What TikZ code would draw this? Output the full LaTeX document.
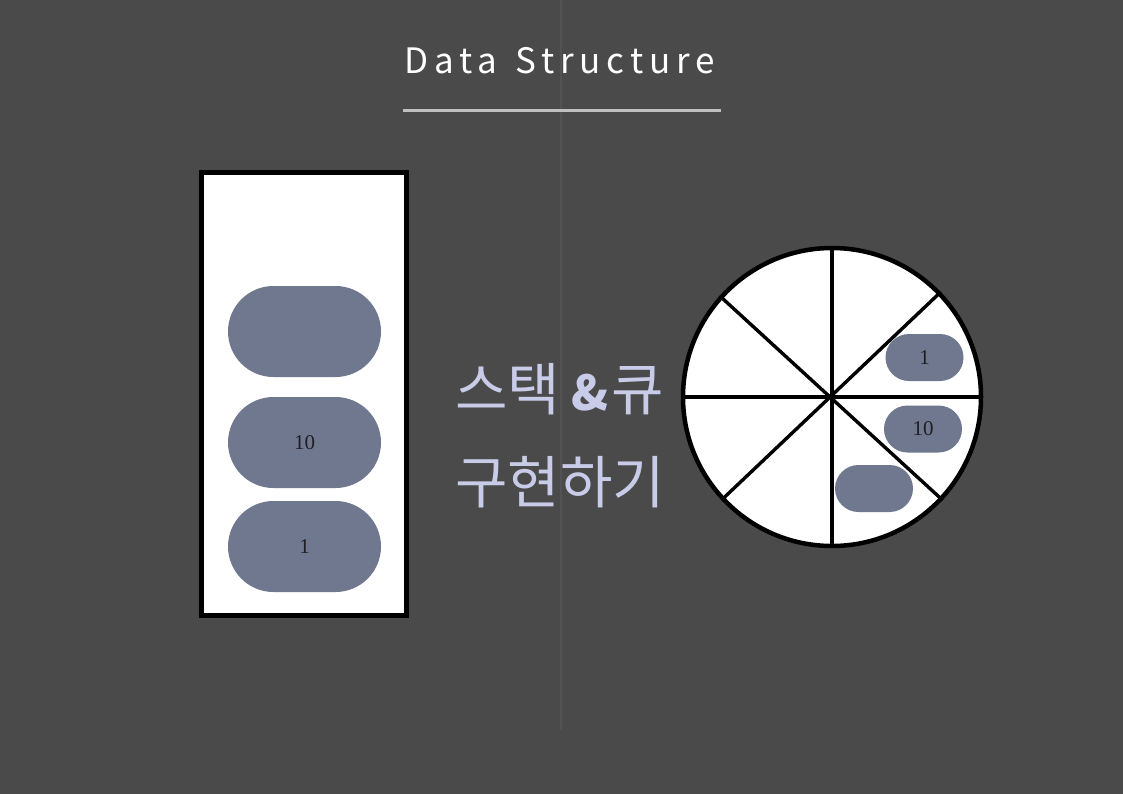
\documentclass[tikz,border=0pt]{standalone}
\usepackage{fontspec}
\setmainfont{Noto Sans CJK KR}
\newfontfamily\digitfont{Liberation Serif}
\usetikzlibrary{shapes.misc}
\definecolor{bgcol}{HTML}{4A4A4A}
\definecolor{seamcol}{HTML}{535353}
\definecolor{rulecol}{HTML}{C0C0C0}
\definecolor{pillcol}{HTML}{6F788F}
\definecolor{hangulcol}{HTML}{C9CCE8}
\definecolor{digitcol}{HTML}{1E1E24}

\begin{document}
\begin{tikzpicture}[x=1pt, y=-1pt,
    pill/.style={rounded rectangle, fill=pillcol, text=digitcol, font=\digitfont\fontsize{21}{23}\selectfont, inner sep=0pt},
    bigpill/.style={pill, minimum width=153, minimum height=91},
    smallpill/.style={pill, minimum width=78, minimum height=47},
    spoke/.style={line width=3.4pt, black}]
    % Background and page size
    \fill[bgcol] (0,0) rectangle (1123,794);
    \useasboundingbox (0,0) rectangle (1123,794);
    \draw[seamcol, line width=1.5pt] (561,0) -- (561,730);

    % Title with rule below
    \node[text=white, font=\fontsize{35}{40}\selectfont\addfontfeatures{LetterSpace=16.5}, anchor=base] (title) at (559.5,74) {Data\ \kern5pt Structure};
    \draw[rulecol, line width=3pt] (403,110.5) -- (721,110.5);

    % Stack box
    \node[draw=black, fill=white, line width=5pt, minimum width=205, minimum height=443, inner sep=0pt] (stack) at (304,394) {};
    \node[bigpill] (s3) at (304.5,331.5) {};
    \node[bigpill] (s2) at (304.5,442.5) {10};
    \node[bigpill] (s1) at (304.5,546.5) {1};

    % Caption in the middle
    \node[text=hangulcol, font=\fontsize{57}{64}\selectfont, anchor=base west, inner sep=0pt] (line1) at (455,410) {스택\hspace{11pt}{\fontsize{48}{60}\selectfont\textbf{\&}}\hspace{3pt}큐};
    \node[text=hangulcol, font=\fontsize{57}{64}\selectfont, anchor=base west, inner sep=0pt] (line2) at (455,503) {구현하기};

    % Circular queue
    \node[circle, draw=black, fill=white, line width=4.5pt, minimum size=298, inner sep=0pt] (queue) at (832,397) {};
    \draw[spoke] (queue.north) -- (queue.south);
    \draw[spoke] (queue.west) -- (queue.east);
    \draw[spoke] (queue.44.2) -- (queue.223.4);
    \draw[spoke] (queue.138.5) -- (queue.317.8);
    \node[smallpill] (q1) at (924.5,357.5) {1};
    \node[smallpill] (q2) at (923,429) {10};
    \node[smallpill] (q3) at (874,488.5) {};
\end{tikzpicture}
\end{document}
